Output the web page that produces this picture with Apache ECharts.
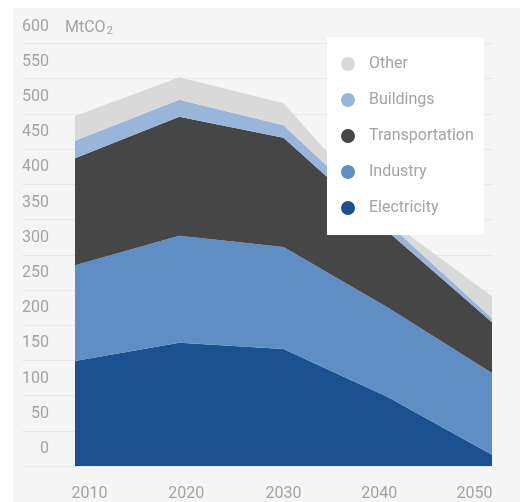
<!DOCTYPE html>
<html>
<head>
<meta charset="utf-8">
<script src="https://cdn.jsdelivr.net/npm/echarts@6/dist/echarts.min.js"></script>
<style>
  html, body { margin: 0; padding: 0; background: #ffffff; }
  #chart { position: absolute; left: 13px; top: 8px; width: 507px; height: 494px; }
</style>
</head>
<body>
<div id="chart"></div>
<script>
// Emissions by sector, MtCO2, stacked
const years = [2010, 2020, 2030, 2040, 2050];
const electricity = [149, 175, 166, 98, 16];
const industry = [136, 152, 145, 127, 116];
const transportation = [152, 169, 155, 108, 72];
const buildings = [25, 24, 18, 12, 6];
const other = [35, 32, 31, 5, 31];
const yTicks = [0, 600, 50]; // min, max, step

const FONT = 'Roboto, "DejaVu Sans Condensed", sans-serif';
const TEXT = '#a3a3a3';
const FS = 16;

const colors = {
  Electricity: '#1b5190',
  Industry: '#5f8ec4',
  Transportation: '#464646',
  Buildings: '#9ab5da',
  Other: '#d9d9d9'
};

// value first, year second: the stacked dimension is the first numeric one
function pairs(vals) {
  return years.map((y, i) => [vals[i], y]);
}

function areaSeries(name, vals) {
  return {
    name: name,
    type: 'line',
    stack: 'total',
    data: pairs(vals),
    encode: { x: 1, y: 0 },
    showSymbol: false,
    symbol: 'none',
    lineStyle: { width: 0 },
    areaStyle: { color: colors[name], opacity: 1 },
    itemStyle: { color: colors[name] },
    emphasis: { disabled: true },
    animation: false
  };
}

const chart = echarts.init(document.getElementById('chart'));
chart.setOption({
  backgroundColor: '#f5f5f5',
  animation: false,
  textStyle: { fontFamily: FONT },
  grid: { left: 9, right: 27, top: 35.5, bottom: 36, containLabel: false },
  xAxis: {
    type: 'value',
    min: 2004.916,
    max: 2050.096,
    axisLine: { show: false },
    axisTick: { show: false },
    splitLine: { show: false },
    axisLabel: {
      customValues: years,
      margin: 20,
      fontSize: FS,
      color: TEXT,
      fontFamily: FONT,
      formatter: function (v) {
        const i = years.indexOf(v);
        return '{p' + i + '|' + v + '}';
      },
      rich: {
        p0: { fontSize: FS, color: TEXT, fontFamily: FONT, padding: [0, 0, 0, 29] },
        p1: { fontSize: FS, color: TEXT, fontFamily: FONT, padding: [0, 0, 0, 14] },
        p2: { fontSize: FS, color: TEXT, fontFamily: FONT },
        p3: { fontSize: FS, color: TEXT, fontFamily: FONT, padding: [0, 17, 0, 0] },
        p4: { fontSize: FS, color: TEXT, fontFamily: FONT, padding: [0, 35, 0, 0] }
      }
    }
  },
  yAxis: {
    type: 'value',
    min: yTicks[0],
    max: yTicks[1],
    interval: yTicks[2],
    axisLine: { show: false },
    axisTick: { show: false },
    splitLine: { lineStyle: { color: '#e8e8e8', width: 1 } },
    axisLabel: {
      inside: true,
      margin: 27,
      align: 'right',
      verticalAlign: 'bottom',
      lineHeight: 34,
      fontSize: FS,
      color: TEXT,
      fontFamily: FONT
    }
  },
  legend: {
    data: ['Other', 'Buildings', 'Transportation', 'Industry', 'Electricity'],
    orient: 'vertical',
    left: 314,
    top: 29,
    icon: 'circle',
    itemWidth: 14,
    itemHeight: 14,
    itemGap: 16,
    padding: [17, 10, 17, 14],
    backgroundColor: '#ffffff',
    selectedMode: false,
    textStyle: {
      fontSize: FS,
      lineHeight: 20,
      color: TEXT,
      fontFamily: FONT,
      padding: [0, 0, 0, 9]
    }
  },
  graphic: [{
    type: 'text',
    left: 52,
    top: 12,
    style: {
      text: '{a|MtCO}{b|2}',
      rich: {
        a: { fontSize: FS, fontFamily: FONT, fill: TEXT, color: TEXT },
        b: { fontSize: 11, fontFamily: FONT, fill: TEXT, color: TEXT, padding: [7, 0, 0, 1] }
      }
    }
  }],
  series: [
    areaSeries('Electricity', electricity),
    areaSeries('Industry', industry),
    areaSeries('Transportation', transportation),
    areaSeries('Buildings', buildings),
    areaSeries('Other', other)
  ]
});
</script>
</body>
</html>
